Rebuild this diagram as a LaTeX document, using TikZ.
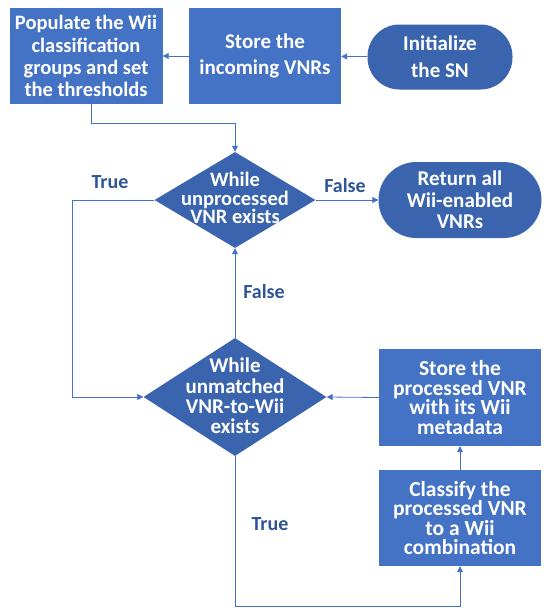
\documentclass[tikz,border=0pt]{standalone}
\usepackage{fontspec}
\setmainfont{Carlito}
\usepackage{xcolor}
\definecolor{boxblue}{HTML}{4472C4}
\definecolor{darkblue}{HTML}{3A64AE}
\definecolor{labelblue}{HTML}{2F5597}
\usetikzlibrary{shapes.geometric,arrows.meta}

\begin{document}
\begin{tikzpicture}[x=1pt,y=-1pt,
  process/.style={draw=none,fill=boxblue,text=white,
                  minimum width=#1,align=center,inner sep=0pt},
  terminal/.style={draw=none,fill=darkblue,text=white,rounded corners=30pt,
                   minimum width=#1,align=center,inner sep=0pt},
  decision/.style={diamond,draw=none,fill=darkblue,inner sep=0pt},
  txt/.style={text=white,align=center,inner sep=0pt},
  branch/.style={text=labelblue,font=\bfseries\fontsize{20}{22}\selectfont},
  flow/.style={-{Triangle[length=6pt,width=6pt]},draw=boxblue,thick}
]
\useasboundingbox (0,0) rectangle (550,616);

% top row
\node[process=153pt,minimum height=96pt,
      font=\bfseries\fontsize{20.5}{22.2}\selectfont] (populate) at (86,56)
  {Populate the Wii\\classification\\groups and set\\the thresholds};
\node[process=152pt,minimum height=96pt,
      font=\bfseries\fontsize{21}{26.7}\selectfont] (storein) at (265,56)
  {Store the\\incoming VNRs};
\node[terminal=145pt,minimum height=65pt,rounded corners=32pt,
      font=\bfseries\fontsize{21}{26.7}\selectfont] (init) at (440,57)
  {Initialize\\the SN};

% outer loop
\node[decision,minimum width=161pt,minimum height=96pt] (loop1) at (235,200) {};
\node[txt,font=\bfseries\fontsize{20.5}{18.5}\selectfont] (loop1txt) at (235,198)
  {While\\unprocessed\\VNR exists};
\node[terminal=163pt,minimum height=76pt,rounded corners=38pt,
      font=\bfseries\fontsize{21}{21.7}\selectfont] (ret) at (460,200)
  {Return all\\Wii-enabled\\VNRs};

% inner loop
\node[decision,minimum width=183pt,minimum height=118pt] (loop2) at (235,397) {};
\node[txt,font=\bfseries\fontsize{21}{20.2}\selectfont] (loop2txt) at (235,396)
  {While\\unmatched\\VNR-to-Wii\\exists};
\node[process=162pt,minimum height=97pt,
      font=\bfseries\fontsize{21.5}{19.4}\selectfont] (storeproc) at (460,397.5)
  {Store the\\processed VNR\\with its Wii\\metadata};
\node[process=162pt,minimum height=96pt,
      font=\bfseries\fontsize{21.5}{19.4}\selectfont] (classify) at (460,518)
  {Classify the\\processed VNR\\to a Wii\\combination};

% connectors
\draw[flow] (init) -- (storein);
\draw[flow] (storein) -- (populate);
\draw[flow] ([xshift=5pt]populate.south) -- ++(0,19) -| (loop1.north);
\draw[flow] (loop1.east) -- (ret.west);
\draw[flow] (loop1.west) -- ++(-82,0) |- (loop2.west);
\draw[flow] (loop2.north) -- (loop1.south);
\draw[flow] (storeproc.west) -- (loop2.east);
\draw[flow] (classify) -- (storeproc);
\draw[flow] (loop2.south) -- ++(0,150) -| (classify.south);

% branch labels
\node[branch] (true1) at (110,182) {True};
\node[branch] (false1) at (345,186) {False};
\node[branch] (false2) at (264,292) {False};
\node[branch] (true2) at (270,524) {True};
\end{tikzpicture}
\end{document}
